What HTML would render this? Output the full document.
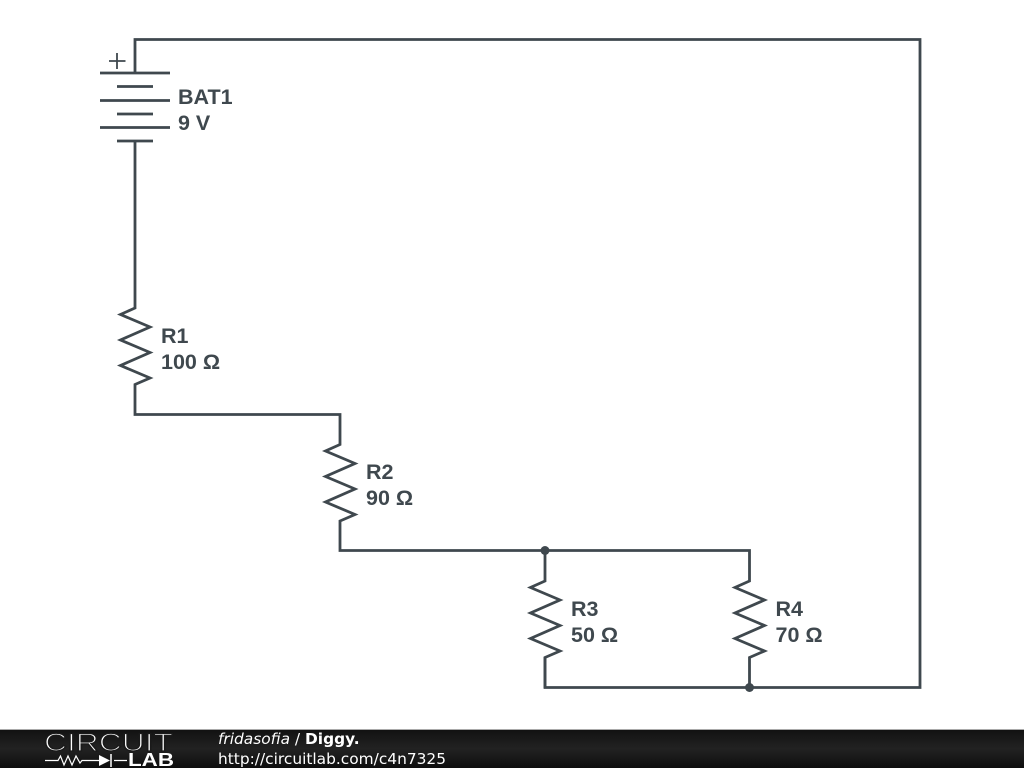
<!DOCTYPE html>
<html><head><meta charset="utf-8"><style>
html,body{margin:0;padding:0;background:#fff;width:1024px;height:768px;overflow:hidden}
svg{display:block}
.w{fill:none;stroke:#3f484e;stroke-width:2.800;stroke-linejoin:miter}
.t{font-family:"Liberation Sans",sans-serif;font-weight:bold;font-size:21.500px;fill:#3f484e}
.f{font-family:"DejaVu Sans",sans-serif;font-size:15.400px;fill:#fff}
</style></head><body>
<svg width="1024" height="768" viewBox="0 0 1024 768" xmlns="http://www.w3.org/2000/svg">
<defs>
<linearGradient id="g" x1="0" y1="0" x2="0" y2="1">
<stop offset="0" stop-color="#111"/><stop offset="0.5" stop-color="#222"/><stop offset="1" stop-color="#0e0e0e"/>
</linearGradient>
</defs>
<rect width="1024" height="768" fill="#fff"/>
<!-- main wires -->
<path class="w" d="M135 73V39.500H920V687.500H545V657"/>
<path class="w" d="M135 141V308L120.500 314.500L150 327L120.500 340L150 352.500L120.500 365.500L150 378L135 384.500V414.500H340V444.500L325.500 451L355 463.500L325.500 476.500L355 489L325.500 502L355 514.500L340 521V550.500H749.500V581L735 587.500L764.500 600L735 613L764.500 625.500L735 638.500L764.500 651L749.500 657.500V687.500"/>
<path class="w" d="M545 550.500V581L530.500 587.500L560 600L530.500 613L560 625.500L530.500 638.500L560 651L545 657.500V688"/>
<!-- battery -->
<path class="w" d="M100 73H170M117 86.500H153M100 100.500H170M117 114H153M100 127.500H170M117 141H153"/>
<path d="M109 61H125.500M117 53V69" fill="none" stroke="#3f484e" stroke-width="1.800"/>
<circle cx="545" cy="550.500" r="4.500" fill="#3f484e"/>
<circle cx="749.500" cy="687.500" r="4.500" fill="#3f484e"/>
<!-- labels -->
<text class="t" x="178" y="104">BAT1</text>
<text class="t" x="178" y="130">9 V</text>
<text class="t" x="161" y="343">R1</text>
<text class="t" x="161" y="369">100 Ω</text>
<text class="t" x="366" y="479">R2</text>
<text class="t" x="366" y="505">90 Ω</text>
<text class="t" x="571" y="616">R3</text>
<text class="t" x="571" y="642">50 Ω</text>
<text class="t" x="775.500" y="616">R4</text>
<text class="t" x="775.500" y="642">70 Ω</text>
<!-- footer -->
<rect x="0" y="729" width="1024" height="39" fill="url(#g)"/>
<rect x="0" y="729" width="1024" height="1" fill="#aaa"/>
<text x="44" y="751" font-family="Liberation Sans, sans-serif" font-size="25" fill="#fff" stroke="#1a1a1a" stroke-width="1.300" textLength="129" lengthAdjust="spacingAndGlyphs">CIRCUIT</text>
<text x="128" y="766" font-family="Liberation Sans, sans-serif" font-size="18" font-weight="bold" fill="#fff" textLength="46" lengthAdjust="spacingAndGlyphs">LAB</text>
<path d="M45 760.500H58L60.500 756L64 765L68 756L72 765L76 756L80 763L82 760.500H99M114 760.500H127" fill="none" stroke="#fff" stroke-width="1.200"/>
<path d="M99 755V766L110 760.500Z" fill="#fff"/>
<path d="M111 754V767" stroke="#fff" stroke-width="1.500"/>
<text class="f" x="218" y="744"><tspan font-style="italic">fridasofia</tspan> / <tspan font-weight="bold">Diggy.</tspan></text>
<text class="f" x="218" y="764">http://circuitlab.com/c4n7325</text>
</svg>
</body></html>
